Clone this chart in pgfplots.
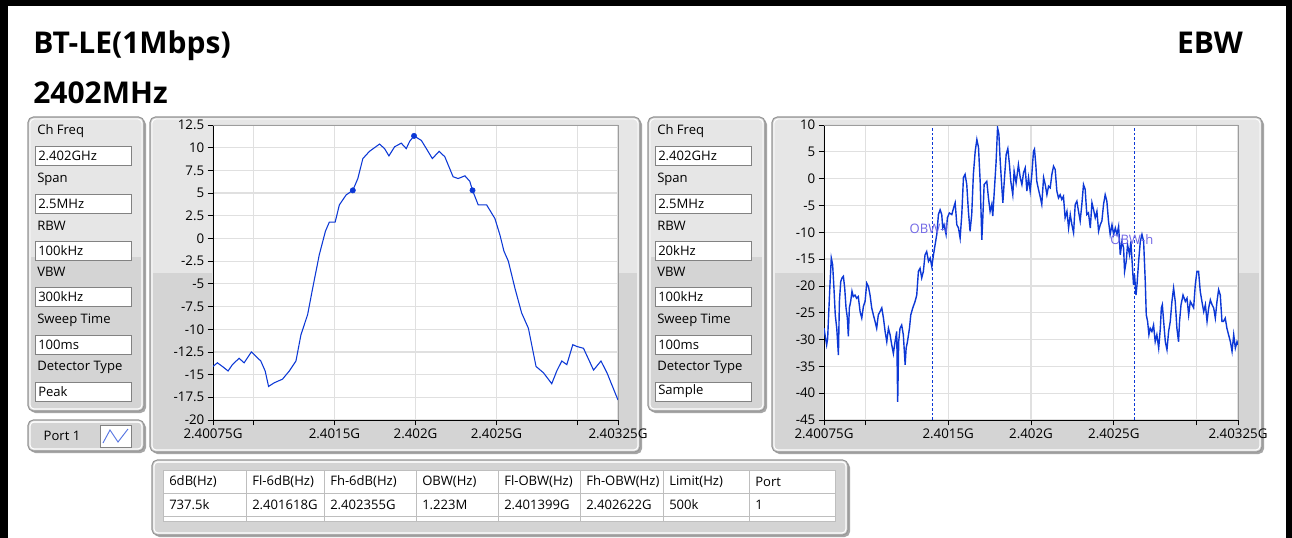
\documentclass[border=0pt]{standalone}
\usepackage{fontspec}
\setmainfont{Open Sans}
\usepackage{pgfplots}
\pgfplotsset{compat=1.18}

\definecolor{trace}{RGB}{12,56,214}
\definecolor{pnlhi}{RGB}{230,230,230}
\definecolor{pnllo}{RGB}{212,212,212}
\definecolor{pnledge}{RGB}{150,150,150}
\definecolor{boxedge}{RGB}{130,130,130}
\definecolor{gridc}{RGB}{224,224,224}
\definecolor{obwlbl}{RGB}{115,105,230}

\newcommand{\uifont}{\fontsize{9.8}{11}\selectfont}
\newcommand{\tickfont}{\fontsize{10}{12}\selectfont}
\newcommand{\titlefont}{\fontsize{22.5}{26}\selectfont\bfseries}

% panel: x1 y1 x2 y2 split-y (pixel units, y grows downwards)
\newcommand{\panel}[5]{%
  \fill[black!35, rounded corners=4] (#1+2,#2+2) rectangle (#3+2,#4+2);
  \fill[pnllo, rounded corners=4] (#1,#2) rectangle (#3,#4);
  \fill[pnlhi] (#1+3,#2+3) rectangle (#3-3,#5);
  \draw[white, line width=0.8pt, rounded corners=3] (#1+2,#2+2) rectangle (#3-2,#4-2);
  \draw[pnledge, line width=0.8pt, rounded corners=4] (#1,#2) rectangle (#3,#4);
}
% field: x, label centre y, label, value
\newcommand{\field}[4]{%
  \node[anchor=west, font=\uifont, inner sep=0] at (#1+2,#2) {#3};
  \filldraw[fill=white, draw=boxedge, line width=0.6pt] (#1,#2+15) rectangle (#1+96,#2+34);
  \node[anchor=west, font=\uifont, inner sep=0] at (#1+3,#2+24.5) {#4};
}

\pgfplotsset{ui/.style={
  scale only axis, anchor=south west,
  axis background/.style={fill=white},
  axis x line*=bottom, axis y line*=left,
  axis line style={black,-},
  tick style={black, line width=0.6pt},
  tick align=outside, major tick length=4pt,
  grid=major, major grid style={gridc, line width=0.9pt},
  ticklabel style={font=\tickfont},
  xmin=0.75, xmax=3.25,
  xtick={0.75,1,1.5,2,2.5,3,3.25},
  xticklabels={2.40075G,,2.4015G,2.402G,2.4025G,,2.40325G},
  xticklabel style={yshift=1pt},
  yticklabel style={xshift=1pt},
}}

\begin{document}
\begin{tikzpicture}[x=0.75pt, y=-0.75pt]
\fill[white] (0,0) rectangle (1292,538);
\fill[black] (0,0) rectangle (1292,6);
\fill[black] (0,0) rectangle (8,538);
\fill[black] (1286,0) rectangle (1292,538);

\node[anchor=base west, inner sep=0, font=\titlefont] at (33,54) {BT-LE(1Mbps)};
\node[anchor=base west, inner sep=0, font=\titlefont] at (33,104) {2402MHz};
\node[anchor=base east, inner sep=0, font=\titlefont] at (1243,54) {EBW};

% left settings panel
\panel{28}{117}{144}{411}{257}
\field{35}{131}{Ch Freq}{2.402GHz}
\field{35}{179}{Span}{2.5MHz}
\field{35}{226}{RBW}{100kHz}
\field{35}{272}{VBW}{300kHz}
\field{35}{320}{Sweep Time}{100ms}
\field{35}{367}{Detector Type}{Peak}

% port button
\panel{28}{420}{144}{451}{420}
\node[font=\uifont] at (62,436) {Port 1};
\filldraw[fill=white, draw=boxedge, line width=0.6pt] (100,425) rectangle (131,447);
\draw[trace!70, line width=0.7pt] (103,443) -- (110,430) -- (118,442) -- (128,429);

% plot panels
\panel{150}{117}{640}{452}{273}
\panel{648}{117}{765}{411}{257}
\field{655}{131}{Ch Freq}{2.402GHz}
\field{655}{179}{Span}{2.5MHz}
\field{655}{226}{RBW}{20kHz}
\field{655}{272}{VBW}{100kHz}
\field{655}{320}{Sweep Time}{100ms}
\field{655}{367}{Detector Type}{Sample}
\panel{772}{117}{1262}{452}{273}

% left spectrum (RBW 100 kHz, peak)
\begin{axis}[ui, at={(159.75pt,-315pt)}, width=303.75pt, height=221.25pt,
  ymin=-20, ymax=12.5, ytick={-20,-17.5,...,12.5},
  yticklabels={-20,-17.5,-15,-12.5,-10,-7.5,-5,-2.5,0,2.5,5,7.5,10,12.5}]
\addplot[trace, line width=0.8pt, mark=none] coordinates {
(0.750,-14.1)(0.777,-13.7)(0.808,-14.1)(0.843,-14.6)(0.870,-13.9)(0.911,-13.2)
(0.942,-13.7)(0.987,-12.5)(1.045,-13.5)(1.072,-14.6)(1.093,-16.3)(1.128,-15.9)
(1.179,-15.5)(1.221,-14.6)(1.262,-13.5)(1.293,-10.6)(1.334,-8.4)(1.365,-5.5)
(1.406,-1.8)(1.444,0.8)(1.468,1.8)(1.504,1.8)(1.530,3.7)(1.572,4.8)(1.613,5.3)
(1.644,6.6)(1.675,8.8)(1.716,9.6)(1.778,10.4)(1.809,9.9)(1.836,9.1)(1.871,10.1)
(1.912,10.5)(1.943,9.9)(1.964,10.7)(1.991,11.3)(2.036,10.8)(2.067,9.9)(2.104,8.8)
(2.146,9.6)(2.181,9.0)(2.232,6.8)(2.263,6.6)(2.305,6.9)(2.335,6.3)(2.352,5.3)
(2.387,3.7)(2.439,3.7)(2.490,2.2)(2.521,0.4)(2.546,-1.4)(2.573,-2.5)(2.614,-5.5)
(2.655,-8.2)(2.697,-9.9)(2.744,-14.1)(2.790,-14.8)(2.841,-16.0)(2.872,-14.6)
(2.903,-13.5)(2.934,-13.9)(2.971,-11.7)(2.996,-11.9)(3.037,-12.1)(3.099,-14.5)
(3.145,-13.5)(3.182,-14.8)(3.250,-17.8)};
\addplot[trace, only marks, mark=*, mark size=2pt] coordinates {
(1.613,5.3)(1.991,11.3)(2.352,5.3)};
\end{axis}
\draw[gridc!70!black, line width=0.6pt] (213,125) -- (618,125) -- (618,420);

% right spectrum (RBW 20 kHz, sample)
\begin{axis}[ui, at={(618pt,-315pt)}, width=310.5pt, height=221.25pt,
  ymin=-45, ymax=10, ytick={-45,-40,...,10},
  yticklabels={-45,-40,-35,-30,-25,-20,-15,-10,-5,0,5,10}]
\addplot[trace, line width=1.05pt, mark=none] coordinates {
(0.750,-27.9)(0.756,-29.1)(0.766,-31.0)(0.772,-29.8)(0.778,-25.4)(0.786,-19.8)
(0.794,-14.8)(0.802,-16.0)(0.810,-20.4)(0.818,-25.4)(0.827,-27.9)(0.837,-32.9)
(0.843,-22.9)(0.851,-19.2)(0.859,-18.5)(0.867,-18.2)(0.875,-20.4)(0.883,-24.1)
(0.891,-26.0)(0.897,-29.4)(0.903,-24.1)(0.911,-22.9)(0.919,-21.0)(0.927,-22.0)
(0.937,-21.7)(0.947,-22.3)(0.957,-22.0)(0.968,-24.8)(0.978,-26.0)(0.988,-23.8)
(0.998,-22.9)(1.008,-19.5)(1.018,-20.1)(1.028,-21.7)(1.038,-24.1)(1.048,-25.4)
(1.058,-26.6)(1.068,-27.9)(1.078,-25.4)(1.088,-24.8)(1.099,-24.1)(1.109,-26.0)
(1.119,-28.5)(1.129,-30.4)(1.139,-27.9)(1.149,-29.1)(1.159,-31.0)(1.169,-32.6)
(1.179,-30.4)(1.189,-28.5)(1.195,-41.6)(1.201,-30.4)(1.209,-27.9)(1.219,-27.3)
(1.229,-29.1)(1.240,-34.7)(1.246,-31.6)(1.254,-30.4)(1.266,-27.9)(1.274,-25.4)
(1.286,-24.1)(1.300,-22.9)(1.310,-21.7)(1.320,-17.3)(1.330,-16.7)(1.340,-18.5)
(1.350,-17.3)(1.360,-14.2)(1.370,-13.6)(1.381,-15.4)(1.391,-14.8)(1.401,-16.4)
(1.411,-14.2)(1.421,-12.3)(1.431,-10.4)(1.441,-6.7)(1.451,-5.8)(1.461,-6.7)
(1.467,-9.2)(1.475,-8.6)(1.487,-10.4)(1.495,-7.3)(1.507,-6.4)(1.522,-6.7)
(1.532,-5.5)(1.542,-4.5)(1.552,-8.6)(1.562,-9.2)(1.572,-11.1)(1.582,-6.7)
(1.592,0.2)(1.602,0.8)(1.612,-1.1)(1.622,-6.1)(1.632,-9.8)(1.642,-6.7)
(1.652,0.8)(1.663,5.1)(1.673,7.3)(1.683,5.8)(1.693,-0.5)(1.703,-11.4)
(1.709,-7.3)(1.717,-1.1)(1.733,-0.5)(1.743,-3.6)(1.753,-6.1)(1.763,-4.8)
(1.769,-7.0)(1.777,-3.0)(1.789,3.0)(1.798,9.5)(1.806,8.3)(1.814,3.3)
(1.824,-1.7)(1.830,-4.5)(1.840,0.2)(1.850,4.5)(1.860,5.6)(1.870,2.6)
(1.878,-0.5)(1.890,-3.0)(1.898,1.4)(1.910,-0.8)(1.924,2.6)(1.935,0.2)
(1.945,-1.1)(1.955,1.1)(1.965,2.0)(1.975,-2.3)(1.985,0.2)(1.995,-2.3)
(2.005,0.8)(2.015,5.1)(2.021,5.5)(2.029,2.6)(2.035,-0.5)(2.045,-2.0)
(2.055,-3.3)(2.065,-4.8)(2.076,0.2)(2.086,-1.1)(2.096,-3.0)(2.106,-1.4)
(2.116,-1.7)(2.126,0.8)(2.136,2.3)(2.146,1.7)(2.156,-2.3)(2.166,-3.6)
(2.176,-3.0)(2.186,-3.9)(2.196,-3.3)(2.206,-7.3)(2.217,-6.1)(2.227,-9.2)
(2.237,-6.7)(2.247,-8.6)(2.257,-10.1)(2.267,-4.8)(2.277,-4.2)(2.287,-6.1)
(2.297,-7.9)(2.307,-4.8)(2.317,-1.1)(2.327,-2.0)(2.337,-6.7)(2.347,-6.4)
(2.358,-9.2)(2.368,-4.5)(2.378,-5.8)(2.388,-7.3)(2.398,-6.1)(2.408,-9.8)
(2.418,-8.6)(2.428,-7.9)(2.438,-4.8)(2.448,-3.0)(2.458,-4.2)(2.468,-7.9)
(2.478,-10.4)(2.489,-8.6)(2.499,-10.4)(2.509,-9.2)(2.519,-10.4)(2.529,-8.9)
(2.539,-14.2)(2.549,-11.7)(2.559,-12.9)(2.565,-17.3)(2.575,-15.4)(2.583,-12.3)
(2.595,-14.2)(2.603,-11.7)(2.613,-16.7)(2.619,-19.8)(2.625,-17.9)(2.634,-21.7)
(2.640,-19.8)(2.650,-15.4)(2.660,-11.7)(2.670,-10.4)(2.680,-11.7)(2.690,-19.2)
(2.696,-25.4)(2.704,-26.6)(2.712,-29.1)(2.720,-27.9)(2.730,-28.5)(2.740,-27.3)
(2.750,-30.4)(2.760,-29.1)(2.771,-31.6)(2.781,-27.9)(2.787,-24.1)(2.793,-23.5)
(2.801,-26.6)(2.811,-30.4)(2.821,-31.9)(2.831,-28.5)(2.841,-26.6)(2.851,-22.9)
(2.861,-20.4)(2.871,-22.9)(2.881,-27.9)(2.891,-30.4)(2.897,-26.6)(2.906,-23.5)
(2.918,-21.7)(2.932,-22.9)(2.942,-22.3)(2.952,-25.4)(2.962,-22.9)(2.972,-23.5)
(2.982,-24.1)(2.992,-19.8)(3.002,-17.3)(3.012,-17.3)(3.022,-21.0)(3.032,-22.9)
(3.043,-24.8)(3.053,-23.5)(3.063,-26.6)(3.073,-24.1)(3.083,-22.6)(3.093,-23.5)
(3.103,-24.1)(3.113,-26.0)(3.123,-22.9)(3.133,-20.7)(3.143,-21.7)(3.153,-26.6)
(3.163,-26.6)(3.173,-26.0)(3.183,-27.9)(3.193,-29.1)(3.204,-30.4)(3.214,-32.2)
(3.224,-29.1)(3.234,-31.6)(3.244,-30.4)(3.250,-31.0)};
\addplot[trace, line width=0.9pt, dash pattern=on 2pt off 1.5pt] coordinates {(1.403,-45)(1.403,10)};
\addplot[trace, line width=0.9pt, dash pattern=on 2pt off 1.5pt] coordinates {(2.623,-45)(2.623,10)};
\node[anchor=west, inner sep=0, font=\uifont, text=obwlbl] at (axis cs:1.266,-9.4) {OBW-l};
\node[anchor=west, inner sep=0, font=\uifont, text=obwlbl] at (axis cs:2.478,-11.4) {OBW-h};
\end{axis}
\draw[gridc!70!black, line width=0.6pt] (824,125) -- (1238,125) -- (1238,420);

% result table
\panel{152}{460}{848}{535}{460}
\fill[white] (163,470) rectangle (835,521);
\draw[gridc!85!black, line width=0.6pt] (163,470) rectangle (835,521);
\foreach \y in {493,516} \draw[gridc!85!black, line width=0.6pt] (163,\y) -- (835,\y);
\foreach \x in {246,324,416,498,580,663,749} \draw[gridc!85!black, line width=0.6pt] (\x,470) -- (\x,521);
\foreach \x/\h/\v in {163/6dB(Hz)/737.5k, 246/Fl-6dB(Hz)/2.401618G, 324/Fh-6dB(Hz)/2.402355G,
  416/OBW(Hz)/1.223M, 498/Fl-OBW(Hz)/2.401399G, 580/Fh-OBW(Hz)/2.402622G,
  663/Limit(Hz)/500k, 749/Port/1} {
  \node[anchor=west, inner sep=0, font=\uifont] at (\x+6,481.5) {\h};
  \node[anchor=west, inner sep=0, font=\uifont] at (\x+6,504.5) {\v};
}
\end{tikzpicture}
\end{document}
